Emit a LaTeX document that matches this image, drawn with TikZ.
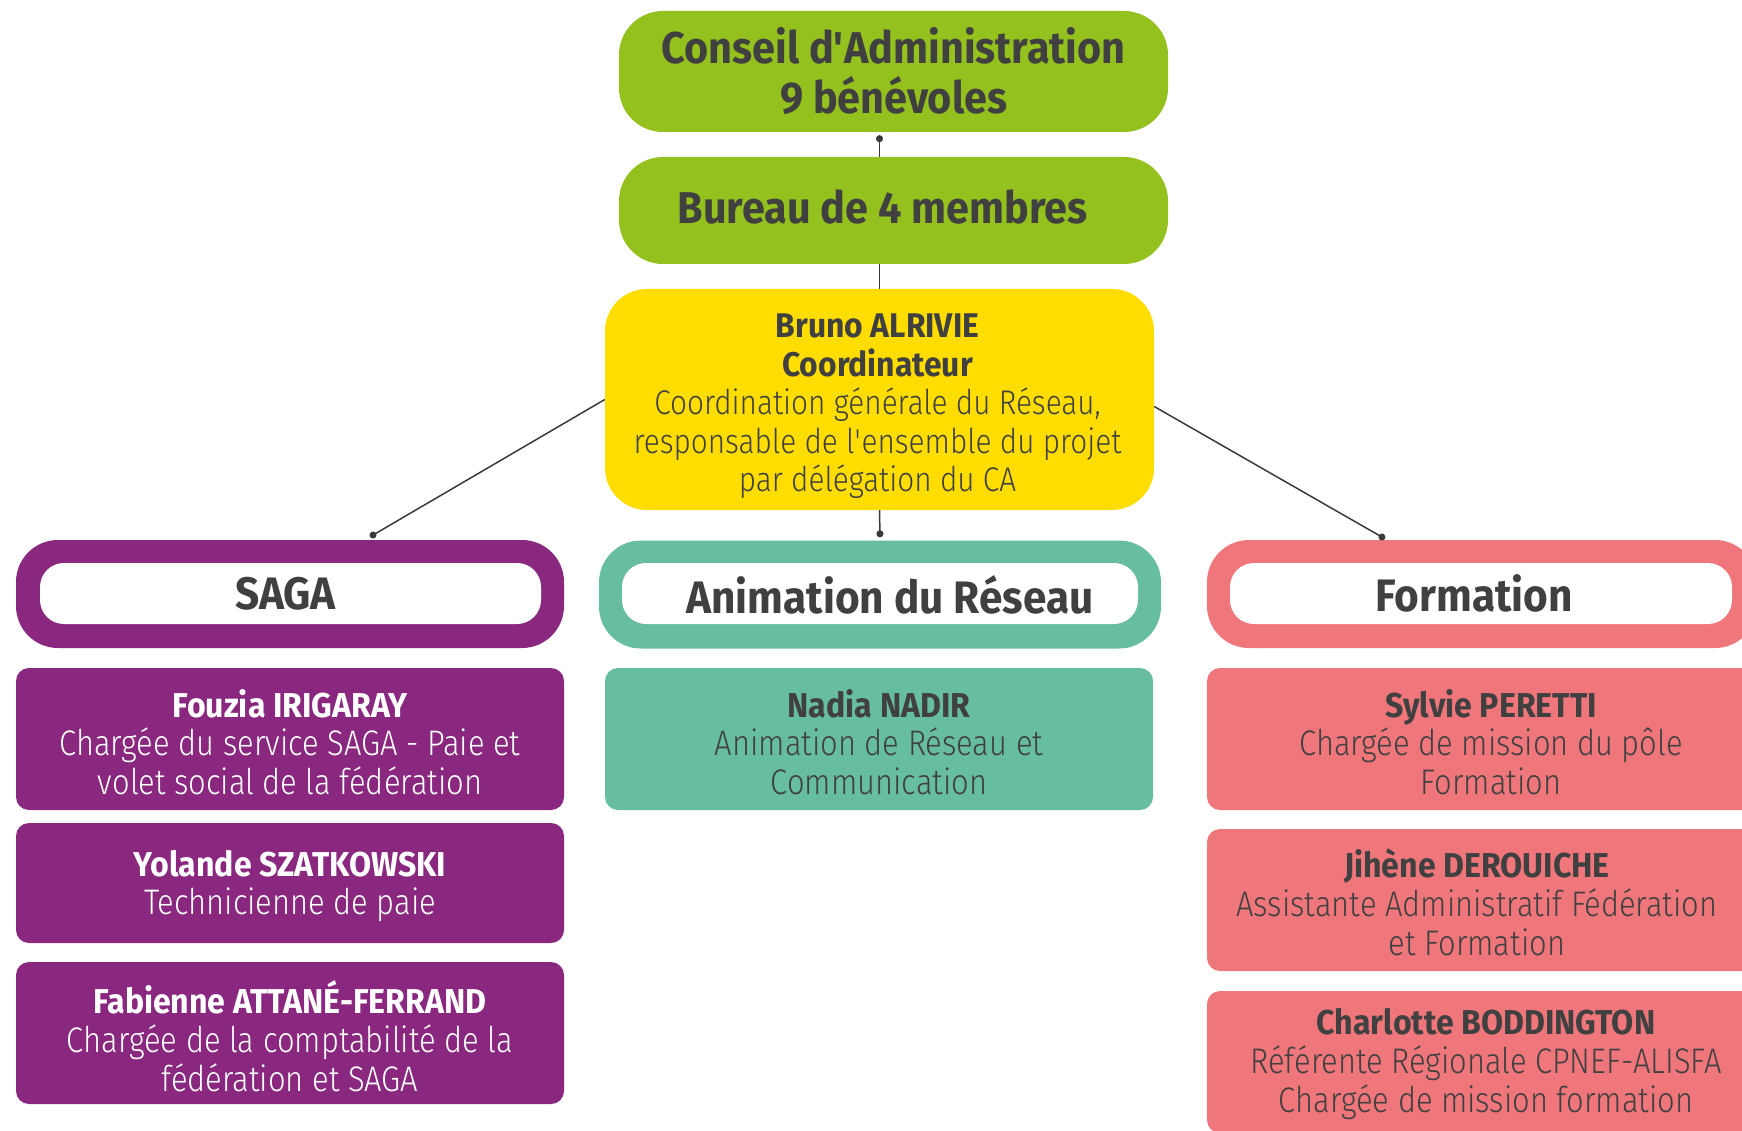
\documentclass[tikz,border=0pt]{standalone}
\usepackage{fontspec}
\setmainfont{Fira Sans}[UprightFont=* Light, BoldFont=* Bold, FakeStretch=0.87, BoldFeatures={FakeStretch=0.93}]
\usetikzlibrary{arrows.meta,calc}
\definecolor{cagreen}{HTML}{95C11F}
\definecolor{cayellow}{HTML}{FFDD00}
\definecolor{sagapurple}{HTML}{8A287F}
\definecolor{animteal}{HTML}{66BD9F}
\definecolor{formsalmon}{HTML}{EF767B}
\definecolor{txtgrey}{HTML}{404040}
\definecolor{linegrey}{HTML}{3A3A3A}
\tikzset{
  box/.style={inner sep=0pt, align=center, text=txtgrey},
  cabox/.style={box, fill=cagreen, rounded corners=44pt, minimum width=549pt, font=\bfseries\fontsize{44.5}{50}\selectfont},
  coordbox/.style={box, fill=cayellow, rounded corners=42pt, minimum width=549pt, minimum height=221pt},
  coordtxt/.style={box, font=\fontsize{34.2}{38.5}\selectfont},
  hdrout/.style={inner sep=0pt, rounded corners=42pt, minimum height=108pt},
  hdrin/.style={inner sep=0pt, fill=white, rounded corners=24pt, minimum height=61pt},
  hdrtxt/.style={box, font=\bfseries\fontsize{45.5}{50}\selectfont},
  staff/.style={box, rounded corners=13pt, minimum width=548pt},
  stafftxt/.style={box, font=\fontsize{35.5}{38.8}\selectfont},
  nm/.style={font=\bfseries\fontsize{34.5}{38.8}\selectfont},
  conn/.style={draw=linegrey, line width=1.5pt},
  dotend/.style={-{Circle[length=7pt]}},
  dotstart/.style={{Circle[length=7pt]}-},
}
\newcommand{\nmline}[1]{{\bfseries\fontsize{34.5}{38.8}\selectfont #1}}
\begin{document}
\begin{tikzpicture}[x=1pt,y=-1pt]
\useasboundingbox (0,0) rectangle (1742,1131);
\clip (0,0) rectangle (1742,1131);

\node[cabox, minimum height=121pt] (ca) at (893.5,71.5) {Conseil d\textquotesingle Administration\\9 bénévoles};
\node[cabox, minimum height=107pt] (bur) at (893.5,210.5) {};
\node[box, font=\bfseries\fontsize{44.5}{50}\selectfont] (burT) at ($(bur)+(-11,-4)$) {Bureau de 4 membres};
\node[coordbox] (coord) at (879.5,399.5) {};
\node[coordtxt] (coordT) at ($(coord)+(-2,7)$) {{\bfseries Bruno ALRIVIE}\\{\bfseries Coordinateur}\\Coordination générale du Réseau,\\responsable de l\textquotesingle ensemble du projet\\par délégation du CA};

\node[hdrout, fill=sagapurple, minimum width=548pt] (sagaO) at (290,594) {};
\node[hdrin, minimum width=501pt] (saga) at (290.5,593.5) {};
\node[hdrtxt] (sagaT) at ($(saga)+(-5,0)$) {SAGA};
\node[hdrout, fill=animteal, minimum width=562pt] (animO) at (880,594.5) {};
\node[hdrin, minimum width=516pt] (anim) at (880,593.5) {};
\node[hdrtxt] (animT) at ($(anim)+(10,1)$) {Animation du Réseau};
\node[hdrout, fill=formsalmon, minimum width=550pt] (formO) at (1482,594) {};
\node[hdrin, minimum width=502pt] (form) at (1481,593.5) {};
\node[hdrtxt] (formT) at ($(form)+(-7,0)$) {Formation};

\node[staff, fill=sagapurple, minimum height=142pt] (fouzia) at (290,739) {};
\node[stafftxt, text=white] (fouziaT) at ($(fouzia)+(0,3)$) {\nmline{Fouzia IRIGARAY}\\Chargée du service SAGA - Paie et\\volet social de la fédération};
\node[staff, fill=sagapurple, minimum height=120pt] (yolande) at (290,883) {};
\node[stafftxt, text=white] (yolandeT) at ($(yolande)+(0,3)$) {\nmline{Yolande SZATKOWSKI}\\Technicienne de paie};
\node[staff, fill=sagapurple, minimum height=142pt] (fabienne) at (290,1033) {};
\node[stafftxt, text=white] (fabienneT) at ($(fabienne)+(0,3)$) {\nmline{Fabienne ATTANÉ-FERRAND}\\Chargée de la comptabilité de la\\fédération et SAGA};
\node[staff, fill=animteal, minimum height=142pt] (nadia) at (879,739) {};
\node[stafftxt] (nadiaT) at ($(nadia)+(0,3)$) {\nmline{Nadia NADIR}\\Animation de Réseau et\\Communication};
\node[staff, fill=formsalmon, minimum height=142pt] (sylvie) at (1481,739) {};
\node[stafftxt] (sylvieT) at ($(sylvie)+(10,3)$) {\nmline{Sylvie PERETTI}\\Chargée de mission du pôle\\Formation};
\node[staff, fill=formsalmon, minimum height=142pt] (jihene) at (1481,900) {};
\node[stafftxt] (jiheneT) at ($(jihene)+(-4,2)$) {\nmline{Jihène DEROUICHE}\\Assistante Administratif Fédération\\et Formation};
\node[staff, fill=formsalmon, minimum height=142pt] (charlotte) at (1481,1062) {};
\node[stafftxt] (charlotteT) at ($(charlotte)+(5,2)$) {\nmline{Charlotte BODDINGTON}\\Référente Régionale CPNEF-ALISFA\\Chargée de mission formation};

\coordinate (caDot) at ($(ca.south -| coord.north)+(0,3)$);
\coordinate (sagaIn) at ($(sagaO.north)+(80,-3)$);
\coordinate (animIn) at ($(animO.north)+(0,-3)$);
\coordinate (formIn) at ($(formO.north)+(-97,-1)$);
\coordinate (coordE) at ($(coord.east)+(0,7)$);

\draw[conn, dotstart] (caDot) -- (bur.north -| coord.north);
\draw[conn] (bur.south -| coord.north) -- (coord.north);
\draw[conn, dotend] (coord.west) -- (sagaIn);
\draw[conn, dotend] (coord.south) -- (animIn);
\draw[conn, dotend] (coordE) -- (formIn);
\end{tikzpicture}
\end{document}
